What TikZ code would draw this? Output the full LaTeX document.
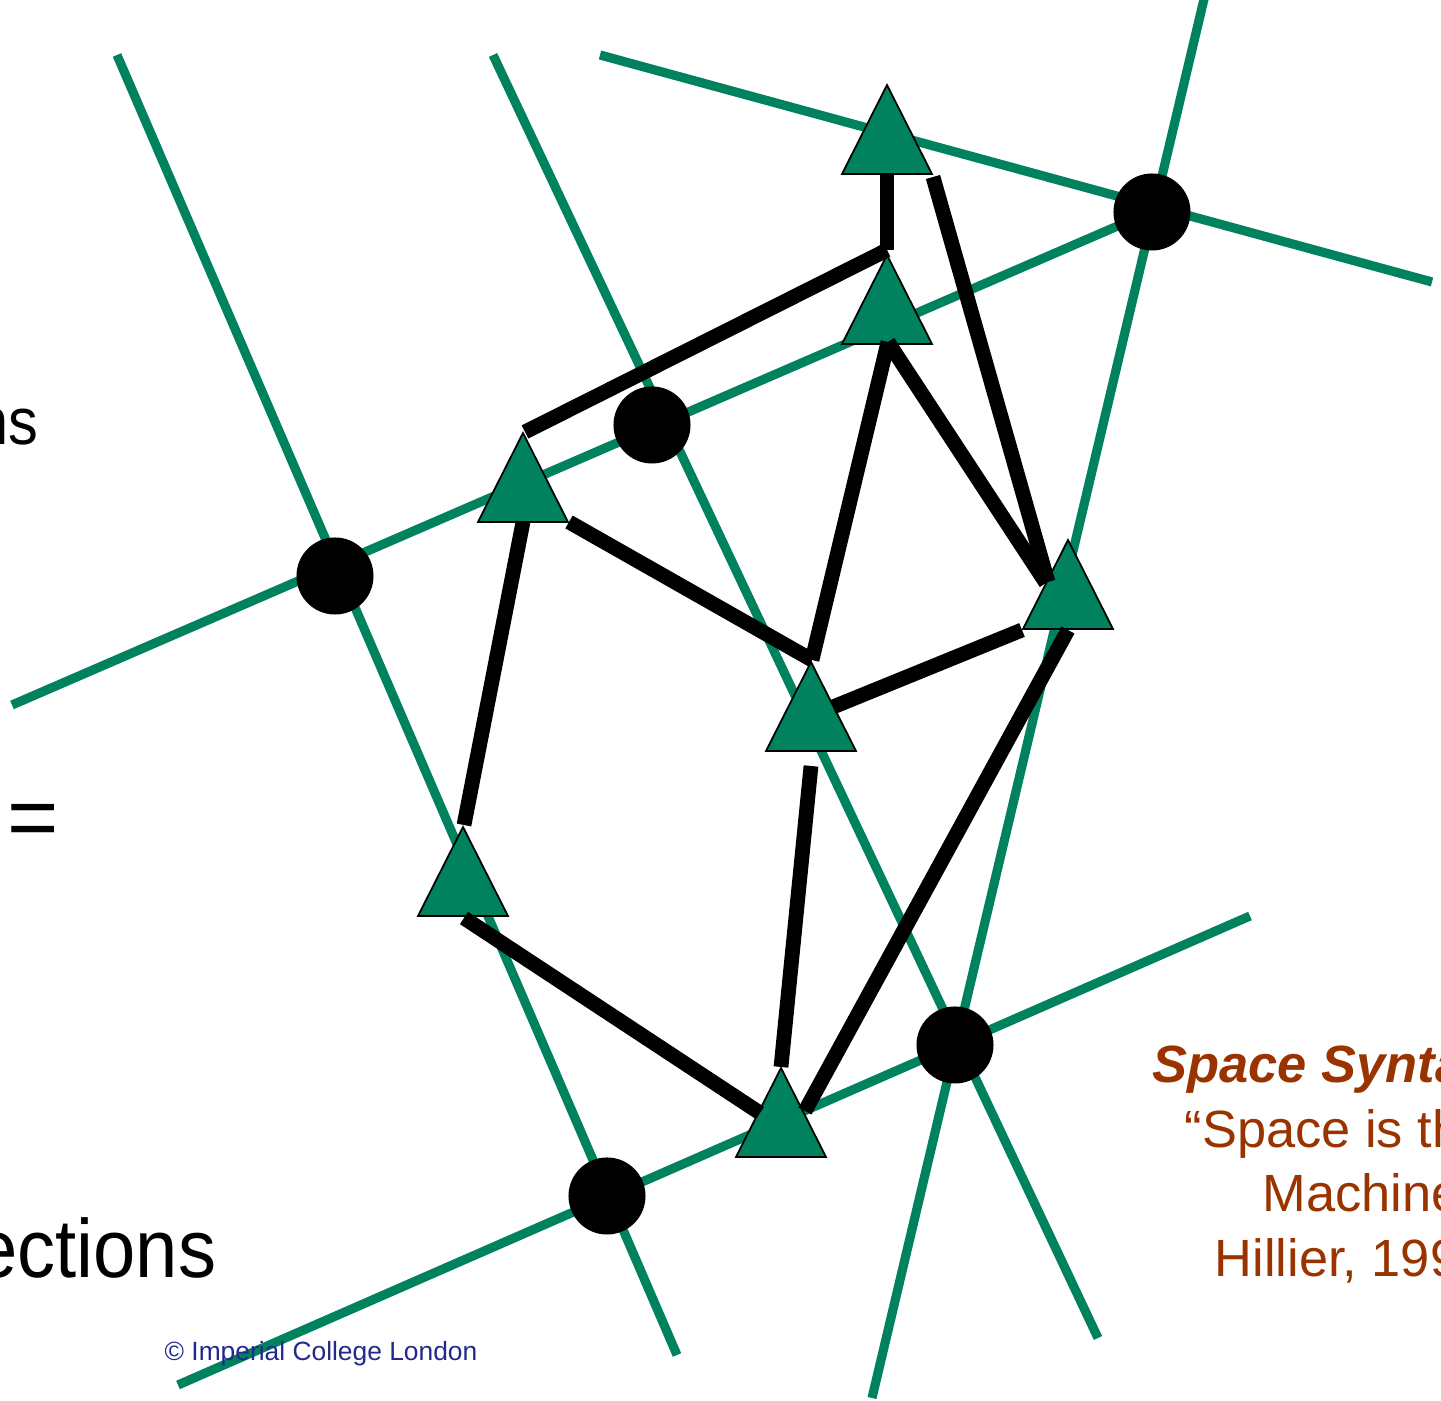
\documentclass[tikz,border=0pt]{standalone}
\usepackage{fontspec}
\setmainfont{Liberation Sans}
\usetikzlibrary{calc}
\definecolor{gr}{RGB}{0,130,95}
\definecolor{brn}{RGB}{153,51,0}
\definecolor{navyblue}{RGB}{35,40,140}
\begin{document}
\begin{tikzpicture}[x=0.01cm,y=-0.01cm,
  road/.style={draw=gr,line width=2.6pt},
  link/.style={draw=black,line width=4.2pt},
  junction/.style={circle,fill=black,minimum size=0.77cm,inner sep=0pt},
  tri/.style={fill=gr,draw=black,line width=0.5pt,line join=miter},
  lbl/.style={inner sep=0pt}]
\useasboundingbox (0,0) rectangle (1441,1401);
\clip (0,0) rectangle (1441,1401);
% green lines
\draw[road] (117,55) -- (677,1355);
\draw[road] (493,55) -- (1098,1338);
\draw[road] (600,55) -- (1432,282);
\draw[road] (1205,-5) -- (872,1398);
\draw[road] (12,705) -- (1150,212);
\draw[road] (178,1385) -- (1250,916);
% junctions
\node[junction] (c1) at (335,576) {};
\node[junction] (c2) at (652,425) {};
\node[junction] (c3) at (1152,212) {};
\node[junction] (c4) at (955,1045) {};
\node[junction] (c5) at (607,1196) {};
% triangles (apex coordinates)
\coordinate (t1) at (887,85);
\coordinate (t2) at (887,255);
\coordinate (t3) at (523,433);
\coordinate (t4) at (1068,540);
\coordinate (t5) at (811,662);
\coordinate (t6) at (463,827);
\coordinate (t7) at (781,1068);
\foreach \t in {t1,t2,t3,t4,t5,t6,t7}
  \filldraw[tri] (\t) -- ++(-45,89) -- ++(90,0) -- cycle;
% black links
\draw[link] ($(t1)+(0,90)$) -- ($(t2)+(0,-5)$);
\draw[link] ($(t2)+(0,-5)$) -- ($(t3)+(2,-1)$);
\draw[link] ($(t1)+(46,92)$) -- ($(t4)+(-20,42)$);
\draw[link] ($(t2)+(1,87)$) -- ($(t4)+(-22,43)$);
\draw[link] ($(t2)+(1,87)$) -- ($(t5)+(1,-2)$);
\draw[link] ($(t3)+(46,89)$) -- ($(t5)+(1,-2)$);
\draw[link] ($(t3)+(0,89)$) -- ($(t6)+(1,-2)$);
\draw[link] ($(t5)+(22,45)$) -- ($(t4)+(-46,90)$);
\draw[link] ($(t5)+(0,104)$) -- ($(t7)+(0,-1)$);
\draw[link] ($(t4)+(0,90)$) -- ($(t7)+(24,43)$);
\draw[link] ($(t6)+(1,91)$) -- ($(t7)+(-21,45)$);
% texts
\node[lbl,anchor=base east,font=\fontsize{18.8pt}{22pt}\selectfont] (tns) at (39,445) {\scalebox{0.9}[1]{ns}};
\node[lbl,anchor=base west,font=\fontsize{25pt}{30pt}\selectfont] (teq) at (7,848) {=};
\node[lbl,anchor=base east,font=\fontsize{23.5pt}{28pt}\selectfont] (tect) at (217,1278) {\scalebox{0.92}[1]{ections}};
\node[lbl,anchor=base west,text=navyblue,font=\fontsize{7.5pt}{9pt}\selectfont] (tcopy) at (164,1361) {© Imperial College London};
\begin{scope}[every node/.style={lbl,anchor=base west,text=brn,font=\fontsize{14.9pt}{18pt}\selectfont}]
\node (ts1) at (1152,1083) {\bfseries\itshape Space Synta};
\node (ts2) at (1184,1148) {“Space is th};
\node (ts3) at (1262,1212) {Machine};
\node (ts4) at (1214,1277) {Hillier, 199};
\end{scope}
\end{tikzpicture}
\end{document}
